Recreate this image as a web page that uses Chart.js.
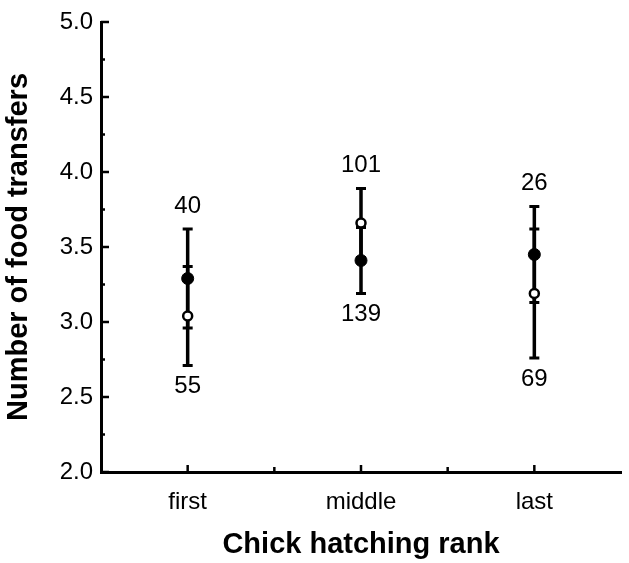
<!DOCTYPE html>
<html>
<head>
<meta charset="utf-8">
<script src="https://cdn.jsdelivr.net/npm/chart.js@4.4.0/dist/chart.umd.min.js"></script>
<style>
  html, body { margin: 0; padding: 0; background: #fff; }
  #chart { display: block; }
</style>
</head>
<body>
<canvas id="chart" width="629" height="563"></canvas>
<script>
// hatching rank categories (placed at x = 1, 2, 3)
const ranks = ['first', 'middle', 'last'];
const rankPos = [1, 2, 3];

// filled circles
const filledMean = [3.29, 3.41, 3.45];
const filledErr = [0.33, 0.22, 0.32];
const filledN = [40, 139, 26];

// open circles
const openMean = [3.04, 3.66, 3.19];
const openErr = [0.33, 0.23, 0.43];
const openN = [55, 101, 69];

const yMin = 2.0, yMax = 5.0;

const FONT = '"Liberation Sans", Helvetica, Arial, sans-serif';

// one line per group, broken with null between groups
function errorBars(mean, err) {
    const pts = [];
    for (let i = 0; i < mean.length; i++) {
        pts.push({ x: rankPos[i], y: mean[i] - err[i] });
        pts.push({ x: rankPos[i], y: mean[i] + err[i] });
        pts.push({ x: rankPos[i] + 0.5, y: null });
    }
    return pts;
}

function points(mean) {
    return mean.map((v, i) => ({ x: rankPos[i], y: v }));
}

// inward tick marks on both axes
const innerTicks = {
    id: 'innerTicks',
    afterDraw(chart) {
        const ctx = chart.ctx;
        const area = chart.chartArea;
        const xs = chart.scales.x;
        const ys = chart.scales.y;
        ctx.save();
        ctx.strokeStyle = '#000';
        ctx.lineWidth = 2.5;
        ys.ticks.forEach(t => {
            const y = ys.getPixelForValue(t.value);
            const major = Math.abs(t.value * 2 - Math.round(t.value * 2)) < 1e-6;
            ctx.beginPath();
            ctx.moveTo(area.left, y);
            ctx.lineTo(area.left + (major ? 8 : 4), y);
            ctx.stroke();
        });
        xs.ticks.forEach(t => {
            if (t.value <= xs.min || t.value >= xs.max) return;
            const x = xs.getPixelForValue(t.value);
            const major = Math.abs(t.value - Math.round(t.value)) < 1e-6;
            ctx.beginPath();
            ctx.moveTo(x, area.bottom);
            ctx.lineTo(x, area.bottom - (major ? 7 : 5));
            ctx.stroke();
        });
        ctx.restore();
    }
};

// sample sizes above / below the bars
const sampleLabels = {
    id: 'sampleLabels',
    afterDatasetsDraw(chart) {
        const ctx = chart.ctx;
        const xs = chart.scales.x;
        const ys = chart.scales.y;
        ctx.save();
        ctx.fillStyle = '#000';
        ctx.font = '24px ' + FONT;
        ctx.textAlign = 'center';
        ctx.textBaseline = 'middle';
        for (let i = 0; i < ranks.length; i++) {
            const x = xs.getPixelForValue(rankPos[i]);
            const fHi = filledMean[i] + filledErr[i], oHi = openMean[i] + openErr[i];
            const fLo = filledMean[i] - filledErr[i], oLo = openMean[i] - openErr[i];
            const topN = fHi >= oHi ? filledN[i] : openN[i];
            const botN = fLo <= oLo ? filledN[i] : openN[i];
            ctx.fillText(String(topN), x, ys.getPixelForValue(Math.max(fHi, oHi)) - 23);
            ctx.fillText(String(botN), x, ys.getPixelForValue(Math.min(fLo, oLo)) + 21);
        }
        ctx.restore();
    }
};

const barStyle = {
    showLine: true,
    spanGaps: false,
    borderColor: '#000',
    borderWidth: 3.5,
    pointStyle: 'line',
    pointRadius: 5,
    pointBorderColor: '#000',
    pointBorderWidth: 3,
    order: 2
};

new Chart(document.getElementById('chart'), {
    type: 'scatter',
    data: {
        datasets: [
            {
                label: 'filled',
                data: points(filledMean),
                pointStyle: 'circle',
                pointRadius: 6,
                backgroundColor: '#000',
                borderColor: '#000',
                borderWidth: 1,
                order: 0
            },
            {
                label: 'open',
                data: points(openMean),
                pointStyle: 'circle',
                pointRadius: 4.5,
                backgroundColor: '#fff',
                borderColor: '#000',
                borderWidth: 2.5,
                order: 0
            },
            Object.assign({ label: 'filled err', data: errorBars(filledMean, filledErr) }, barStyle),
            Object.assign({ label: 'open err', data: errorBars(openMean, openErr) }, barStyle)
        ]
    },
    options: {
        responsive: false,
        animation: false,
        layout: { padding: { top: 22, right: 4, left: 0, bottom: 0 } },
        plugins: {
            legend: { display: false },
            tooltip: { enabled: false }
        },
        scales: {
            x: {
                type: 'linear',
                min: 0.5,
                max: 3.5,
                afterFit(scale) {
                    scale.height = 91;
                    scale.paddingLeft = 0;
                    scale.paddingRight = 0;
                },
                grid: { display: false, drawTicks: false },
                border: { display: true, color: '#000', width: 3 },
                ticks: {
                    stepSize: 0.5,
                    autoSkip: false,
                    maxRotation: 0,
                    padding: 16,
                    color: '#000',
                    font: { family: FONT, size: 24 },
                    callback: (v) => {
                        const i = rankPos.indexOf(v);
                        return i >= 0 ? ranks[i] : '';
                    }
                },
                title: {
                    display: true,
                    text: 'Chick hatching rank',
                    color: '#000',
                    font: { family: FONT, size: 29, weight: 'bold' },
                    padding: { top: 0, bottom: 1 }
                }
            },
            y: {
                min: yMin,
                max: yMax,
                afterFit(scale) {
                    scale.width = 101;
                    scale.paddingTop = 0;
                    scale.paddingBottom = 0;
                },
                grid: { display: false, drawTicks: false },
                border: { display: true, color: '#000', width: 3 },
                ticks: {
                    stepSize: 0.25,
                    autoSkip: false,
                    padding: 8,
                    color: '#000',
                    font: { family: FONT, size: 24 },
                    callback: (v) => (Math.abs(v * 2 - Math.round(v * 2)) < 1e-6 ? v.toFixed(1) : '')
                },
                title: {
                    display: true,
                    text: 'Number of food transfers',
                    color: '#000',
                    font: { family: FONT, size: 29, weight: 'bold' },
                    padding: { top: 2, bottom: 0 }
                }
            }
        }
    },
    plugins: [innerTicks, sampleLabels]
});
</script>
</body>
</html>
